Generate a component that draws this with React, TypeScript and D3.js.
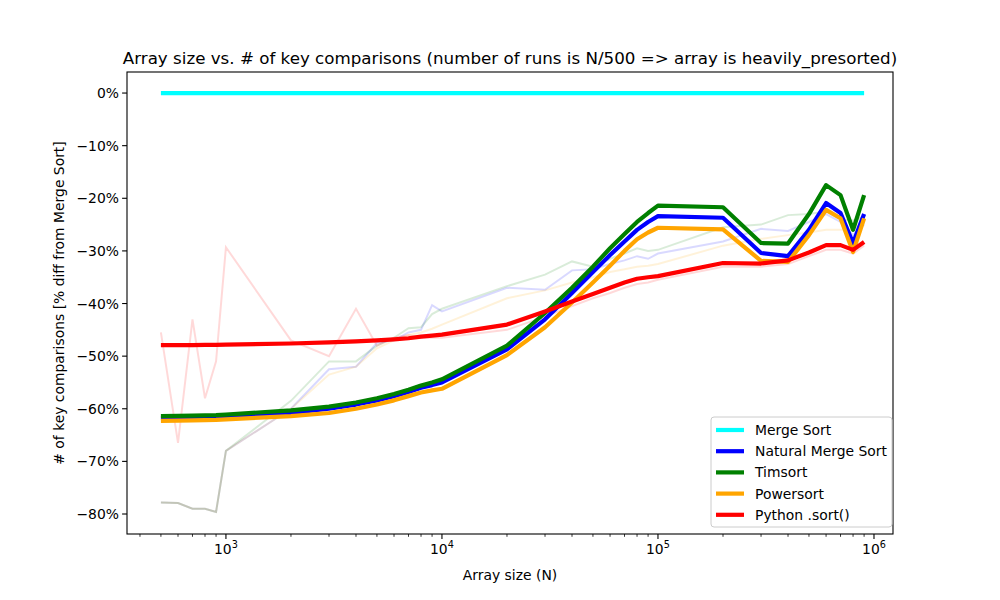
import React, { useEffect, useRef } from 'react';
import * as d3 from 'd3';

const sizes = [500, 600, 700, 800, 900, 1000, 2000, 3000, 4000, 5000, 6000, 7000, 8000, 9000,
  10000, 20000, 30000, 40000, 50000, 60000, 70000, 80000, 90000,
  100000, 200000, 300000, 400000, 500000, 600000, 700000, 800000, 900000];

const names = ['Merge Sort', 'Natural Merge Sort', 'Timsort', 'Powersort', 'Python .sort()'];
const colors = ['cyan', 'blue', 'green', 'orange', 'red'];

// smoothed (thick) series
const smoothMerge = sizes.map(() => 0);
const smoothNatural = [-61.8, -61.75, -61.7, -61.65, -61.6, -61.5, -60.8, -60.0, -59.2, -58.4, -57.6, -56.8, -56.0, -55.5,
  -55.0, -48.7, -43.0, -38.0, -34.0, -30.8, -28.2, -26.0, -24.5,
  -23.4, -23.7, -30.4, -31.0, -26.0, -20.9, -22.8, -28.5, -23.0];
const smoothTimsort = [-61.4, -61.35, -61.3, -61.25, -61.2, -61.1, -60.3, -59.6, -58.8, -58.0, -57.2, -56.4, -55.6, -55.0,
  -54.4, -48.0, -41.8, -37.0, -33.0, -29.5, -26.8, -24.5, -22.8,
  -21.4, -21.7, -28.5, -28.6, -23.0, -17.5, -19.4, -26.0, -19.4];
const smoothPowersort = [-62.3, -62.25, -62.2, -62.15, -62.1, -62.0, -61.4, -60.8, -60.0, -59.2, -58.4, -57.6, -56.9, -56.5,
  -56.2, -49.8, -44.5, -39.8, -36.0, -32.8, -30.0, -27.8, -26.5,
  -25.6, -25.9, -31.9, -32.1, -27.0, -22.2, -23.8, -30.2, -23.8];
const smoothPython = [-47.9, -47.9, -47.9, -47.85, -47.85, -47.8, -47.6, -47.4, -47.2, -47.0, -46.8, -46.6, -46.3, -46.1,
  -45.9, -44.0, -41.5, -39.6, -38.2, -37.0, -36.0, -35.3, -35.0,
  -34.8, -32.3, -32.4, -31.8, -30.3, -28.9, -28.9, -29.8, -28.3];

// raw (faint) series
const rawMerge = sizes.map(() => 0);
const rawNatural = [-77.8, -77.9, -79, -79, -79.6, -68, -60, -52.5, -52, -47.5, -47, -45.5, -45, -40.3,
  -41.5, -37, -37.4, -33.7, -33.5, -32.5, -31.8, -31, -31.5,
  -30.5, -28.2, -25.8, -26.2, -24.5, -23, -24.5, -27, -25];
const rawTimsort = [-77.8, -77.9, -79, -79, -79.6, -68, -58.5, -51, -51, -48, -46.5, -44.7, -44.5, -42,
  -41, -36.7, -34.5, -32, -33, -31.5, -30.5, -29.5, -30,
  -29.8, -25.5, -25, -23.2, -23, -22.5, -24, -24.2, -23.5];
const rawPowersort = [-77.8, -77.9, -79, -79, -79.6, -68, -60, -53.5, -52, -48.5, -47, -46, -45.5, -44.8,
  -44, -39, -37.5, -36, -35, -34, -33.5, -33, -32.8,
  -32.5, -29, -27.7, -27, -26.5, -26, -26, -26, -24];
const rawPython = [-45.5, -66.5, -43, -58, -51, -29.3, -47, -50, -41, -48, -46.5, -46, -46.5, -46.5,
  -46.5, -45, -42.5, -40.5, -39, -38, -37, -36.3, -36,
  -35.5, -33, -33, -32.5, -31, -29.8, -29.8, -30.5, -29];

const smoothSeries = [smoothMerge, smoothNatural, smoothTimsort, smoothPowersort, smoothPython];
const rawSeries = [rawMerge, rawNatural, rawTimsort, rawPowersort, rawPython];
const yTicks = [0, -10, -20, -30, -40, -50, -60, -70, -80];

export default function App() {
  const ref = useRef<SVGSVGElement>(null);

  useEffect(() => {
    const svg = d3.select(ref.current);
    svg.selectAll('*').remove();
    const L = 127, R = 893, T = 72, B = 534;
    const font = 'DejaVu Sans, sans-serif';

    const x = d3.scaleLog().domain([Math.pow(10, 2.542), Math.pow(10, 6.088)]).range([L, R]);
    const y = d3.scaleLinear().domain([-83.8, 4]).range([B, T]);

    svg.append('rect').attr('width', 1000).attr('height', 600).attr('fill', 'white');

    const line = d3.line<number>().x((_, i) => x(sizes[i])).y(d => y(d));
    const plot = svg.append('g');
    plot.append('clipPath').attr('id', 'clip').append('rect')
      .attr('x', L).attr('y', T).attr('width', R - L).attr('height', B - T);
    const g = plot.append('g').attr('clip-path', 'url(#clip)');

    rawSeries.forEach((s, i) => {
      g.append('path').attr('d', line(s)).attr('fill', 'none')
        .attr('stroke', colors[i]).attr('stroke-opacity', 0.15).attr('stroke-width', 2);
    });
    smoothSeries.forEach((s, i) => {
      g.append('path').attr('d', line(s)).attr('fill', 'none')
        .attr('stroke', colors[i]).attr('stroke-width', 4.2).attr('stroke-linejoin', 'round');
    });

    // frame
    svg.append('rect').attr('x', L).attr('y', T).attr('width', R - L).attr('height', B - T)
      .attr('fill', 'none').attr('stroke', 'black').attr('stroke-width', 1.1);

    // x ticks
    [3, 4, 5, 6].forEach(e => {
      const px = x(Math.pow(10, e));
      svg.append('line').attr('x1', px).attr('x2', px).attr('y1', B).attr('y2', B + 4.9).attr('stroke', 'black').attr('stroke-width', 1.1);
      const t = svg.append('text').attr('x', px).attr('y', B + 20).attr('text-anchor', 'middle')
        .attr('font-family', font).attr('font-size', 13.9);
      t.append('tspan').text('10');
      t.append('tspan').attr('dy', -6).attr('font-size', 9.7).text(String(e));
    });
    for (let e = 2; e <= 5; e++) {
      for (let m = 2; m <= 9; m++) {
        const v = m * Math.pow(10, e);
        const px = x(v);
        if (px < L || px > R) continue;
        svg.append('line').attr('x1', px).attr('x2', px).attr('y1', B).attr('y2', B + 2.8).attr('stroke', 'black').attr('stroke-width', 0.8);
      }
    }

    // y ticks
    yTicks.forEach(v => {
      const py = y(v);
      svg.append('line').attr('x1', L - 4.9).attr('x2', L).attr('y1', py).attr('y2', py).attr('stroke', 'black').attr('stroke-width', 1.1);
      svg.append('text').attr('x', L - 8).attr('y', py + 5).attr('text-anchor', 'end')
        .attr('font-family', font).attr('font-size', 13.9).text(`${v === 0 ? '' : '\u2212'}${Math.abs(v)}%`);
    });

    svg.append('text').attr('x', (L + R) / 2).attr('y', 580).attr('text-anchor', 'middle')
      .attr('font-family', font).attr('font-size', 13.9).text('Array size (N)');
    svg.append('text').attr('transform', `translate(64,${(T + B) / 2}) rotate(-90)`).attr('text-anchor', 'middle')
      .attr('font-family', font).attr('font-size', 13.9).text('# of key comparisons [% diff from Merge Sort]');
    svg.append('text').attr('x', (L + R) / 2).attr('y', 64).attr('text-anchor', 'middle')
      .attr('font-family', font).attr('font-size', 16.7)
      .text('Array size vs. # of key comparisons (number of runs is N/500 => array is heavily_presorted)');

    // legend
    const lg = svg.append('g');
    lg.append('rect').attr('x', 711).attr('y', 417).attr('width', 181).attr('height', 110).attr('rx', 3)
      .attr('fill', 'white').attr('fill-opacity', 0.8).attr('stroke', '#cccccc');
    names.forEach((n, i) => {
      const py = 430 + i * 21.2;
      lg.append('line').attr('x1', 716).attr('x2', 744).attr('y1', py).attr('y2', py)
        .attr('stroke', colors[i]).attr('stroke-width', 4.2);
      lg.append('text').attr('x', 755).attr('y', py + 5).attr('font-family', font).attr('font-size', 13.9).text(n);
    });
  }, []);

  return <svg ref={ref} width={1000} height={600} style={{ position: 'absolute', left: 0, top: 0 }} />;
}
